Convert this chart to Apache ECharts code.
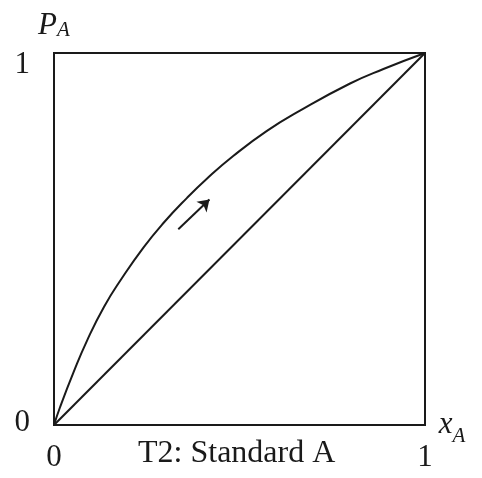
<!DOCTYPE html>
<html>
<head>
<meta charset="utf-8">
<script src="https://cdn.jsdelivr.net/npm/echarts@6/dist/echarts.min.js"></script>
<style>html,body{margin:0;padding:0;background:#fff}#c{width:482px;height:478px}</style>
</head>
<body>
<div id="c"></div>
<script>
const curveX = [0, 0.016, 0.052, 0.090, 0.135, 0.182, 0.241, 0.295, 0.358, 0.412, 0.483, 0.573, 0.663, 0.798, 0.888, 1];
const curveY = [0, 0.047, 0.140, 0.229, 0.318, 0.393, 0.477, 0.543, 0.610, 0.662, 0.723, 0.790, 0.845, 0.918, 0.957, 1];
const diagX = [0, 1];
const diagY = [0, 1];
const arrowFrom = [0.335, 0.526];
const arrowTo = [0.419, 0.606];
const tickValues = [0, 1];
const titleText = 'T2: Standard A';

const serif = 'Liberation Serif';
const ink = '#1a1a1a';
const chart = echarts.init(document.getElementById('c'));
chart.setOption({
  animation: false,
  backgroundColor: '#fff',
  title: {
    text: titleText, left: 138, top: 438, padding: 0,
    textStyle: {fontFamily: serif, fontSize: 32, fontWeight: 'normal', color: ink}
  },
  grid: {left: 54, right: 57, top: 53, bottom: 53, show: true, borderColor: ink, borderWidth: 2},
  xAxis: {
    type: 'value', min: tickValues[0], max: tickValues[1], interval: 1,
    splitLine: {show: false}, axisTick: {show: false},
    axisLine: {lineStyle: {color: ink, width: 2}},
    axisLabel: {fontFamily: serif, fontSize: 31, color: ink, margin: 17},
    name: '{i|x}{s|A}', nameLocation: 'end', nameGap: 12,
    nameTextStyle: {rich: {
      i: {fontFamily: serif, fontStyle: 'italic', fontSize: 31, color: ink, verticalAlign: 'bottom'},
      s: {fontFamily: serif, fontStyle: 'italic', fontSize: 21, color: ink, verticalAlign: 'bottom', padding: [0,0,-6,0]}
    }}
  },
  yAxis: {
    type: 'value', min: tickValues[0], max: tickValues[1], interval: 1,
    splitLine: {show: false}, axisTick: {show: false},
    axisLine: {lineStyle: {color: ink, width: 2}},
    axisLabel: {
      fontFamily: serif, fontSize: 31, color: ink, margin: 24,
      formatter: v => v === 1 ? '{t|1}' : '{b|0}',
      rich: {
        t: {fontFamily: serif, fontSize: 31, color: ink, padding: [24, 0, 0, 0]},
        b: {fontFamily: serif, fontSize: 31, color: ink, padding: [0, 0, 4, 0]}
      }
    },
    name: '{i|P}{s|A}', nameLocation: 'end', nameGap: 12,
    nameTextStyle: {align: 'center', rich: {
      i: {fontFamily: serif, fontStyle: 'italic', fontSize: 31, color: ink},
      s: {fontFamily: serif, fontStyle: 'italic', fontSize: 21, color: ink, padding: [0,0,-10,0]}
    }}
  },
  series: [
    {
      type: 'line', data: curveX.map((x, i) => [x, curveY[i]]), smooth: 0.5,
      showSymbol: false, lineStyle: {color: ink, width: 2}
    },
    {
      type: 'line', data: diagX.map((x, i) => [x, diagY[i]]),
      showSymbol: false, lineStyle: {color: ink, width: 2},
      markLine: {
        silent: true, symbol: ['none', 'arrow'], symbolSize: 11,
        label: {show: false},
        lineStyle: {color: ink, width: 2, type: 'solid'},
        data: [[{coord: arrowFrom}, {coord: arrowTo}]]
      }
    }
  ]
});
</script>
</body>
</html>
